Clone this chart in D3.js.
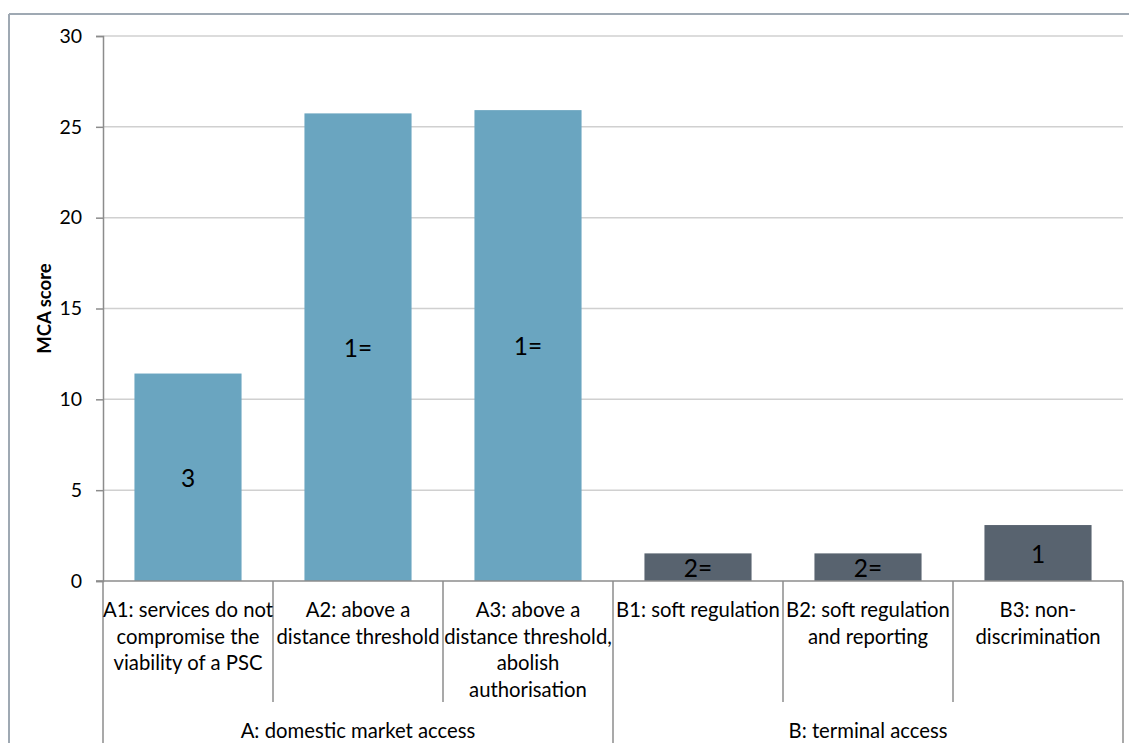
<!DOCTYPE html>
<html>
<head>
<meta charset="utf-8">
<script src="https://cdn.jsdelivr.net/npm/d3@7"></script>
<style>
  html, body { margin: 0; padding: 0; background: #fff; }
  svg text { font-family: Lato, "Liberation Sans", sans-serif; fill: #000; }
</style>
</head>
<body>
<svg id="chart" width="1129" height="743"></svg>
<script>
// Options and their MCA scores
const categories = ["A1", "A2", "A3", "B1", "B2", "B3"];
const categoryLabels = [
  ["A1: services do not", "compromise the", "viability of a PSC"],
  ["A2: above a", "distance threshold"],
  ["A3: above a", "distance threshold,", "abolish", "authorisation"],
  ["B1: soft regulation"],
  ["B2: soft regulation", "and reporting"],
  ["B3: non-", "discrimination"]
];
const scores = [11.42, 25.74, 25.92, 1.52, 1.52, 3.08];
const ranks = ["3", "1=", "1=", "2=", "2=", "1"];
const groupOf = ["A", "A", "A", "B", "B", "B"];
const groups = ["A", "B"];
const groupLabels = ["A: domestic market access", "B: terminal access"];
const yTicks = [0, 5, 10, 15, 20, 25, 30];

const colors = { A: "#6aa5c0", B: "#58636f" };

const svg = d3.select("#chart");
const plotLeft = 103, plotRight = 1123, plotTop = 36, plotBase = 581;

// Outer chart frame
svg.append("line").attr("x1", 9).attr("x2", 9).attr("y1", 14).attr("y2", 743)
  .attr("stroke", "#9fa9b3").attr("stroke-width", 2);
svg.append("line").attr("x1", 9).attr("x2", 1129).attr("y1", 14).attr("y2", 14)
  .attr("stroke", "#9fa9b3").attr("stroke-width", 2);

const x = d3.scaleBand().domain(categories).range([plotLeft, plotRight])
  .paddingInner(0.37).paddingOuter(0.185);
const y = d3.scaleLinear().domain([0, 30]).range([plotBase, plotTop]);

// Gridlines
svg.append("g").selectAll("line").data(yTicks.filter(d => d > 0)).join("line")
  .attr("x1", plotLeft).attr("x2", plotRight)
  .attr("y1", d => y(d)).attr("y2", d => y(d))
  .attr("stroke", "#d0d0d0").attr("stroke-width", 1.5);

// Y axis
const yAxis = svg.append("g").attr("transform", `translate(${plotLeft},0)`)
  .call(d3.axisLeft(y).tickValues(yTicks).tickSize(7).tickPadding(14));
yAxis.select(".domain").attr("stroke", "#8c8c8c").attr("stroke-width", 1.5);
yAxis.selectAll(".tick line").attr("stroke", "#8c8c8c").attr("stroke-width", 1.5);
yAxis.selectAll(".tick text").attr("font-size", 19.5).attr("font-family", "Lato, sans-serif")
  .attr("fill", "#000");

svg.append("text")
  .attr("transform", `translate(44,${(plotTop + plotBase) / 2}) rotate(-90)`)
  .attr("text-anchor", "middle").attr("dominant-baseline", "central")
  .attr("font-size", 18.5).attr("font-weight", "bold")
  .text("MCA score");

// Bars
svg.append("g").selectAll("rect").data(categories).join("rect")
  .attr("x", d => x(d))
  .attr("width", x.bandwidth())
  .attr("y", (d, i) => y(scores[i]))
  .attr("height", (d, i) => y(0) - y(scores[i]))
  .attr("fill", (d, i) => colors[groupOf[i]]);

// Rank labels inside bars
svg.append("g").selectAll("text").data(categories).join("text")
  .attr("x", d => x(d) + x.bandwidth() / 2)
  .attr("y", (d, i) => (y(scores[i]) + y(0)) / 2)
  .attr("text-anchor", "middle").attr("dominant-baseline", "central")
  .attr("font-size", 24.5)
  .text((d, i) => ranks[i]);

// Category axis: baseline, separators and labels
svg.append("line").attr("x1", plotLeft - 7).attr("x2", plotRight).attr("y1", plotBase).attr("y2", plotBase)
  .attr("stroke", "#8c8c8c").attr("stroke-width", 1.5);

const step = x.step();
const bandLeft = d => x(d) - x.paddingOuter() * step;
const sepStroke = "#8c8c8c";

// Short separators between categories within a group
svg.append("g").selectAll("line")
  .data(categories.filter((d, i) => i > 0 && groupOf[i] === groupOf[i - 1]))
  .join("line")
  .attr("x1", d => bandLeft(d)).attr("x2", d => bandLeft(d))
  .attr("y1", plotBase).attr("y2", 702)
  .attr("stroke", sepStroke).attr("stroke-width", 1.5);

// Full-height separators at group boundaries
const groupEdges = [plotLeft, ...categories.filter((d, i) => i > 0 && groupOf[i] !== groupOf[i - 1]).map(bandLeft), plotRight];
svg.append("g").selectAll("line").data(groupEdges).join("line")
  .attr("x1", d => d).attr("x2", d => d)
  .attr("y1", plotBase).attr("y2", 743)
  .attr("stroke", sepStroke).attr("stroke-width", 1.5);

const labelG = svg.append("g").selectAll("text").data(categories).join("text")
  .attr("x", d => x(d) + x.bandwidth() / 2)
  .attr("text-anchor", "middle")
  .attr("font-size", 20.3);
labelG.selectAll("tspan").data((d, i) => categoryLabels[i]).join("tspan")
  .attr("x", function () { return d3.select(this.parentNode).attr("x"); })
  .attr("y", (t, j) => 609 + j * 26.5)
  .attr("dominant-baseline", "central")
  .text(t => t);

// Group labels
svg.append("g").selectAll("text").data(groups).join("text")
  .attr("x", (g, k) => (groupEdges[k] + groupEdges[k + 1]) / 2)
  .attr("y", 730)
  .attr("text-anchor", "middle").attr("dominant-baseline", "central")
  .attr("font-size", 20.3)
  .text((g, k) => groupLabels[k]);
</script>
</body>
</html>
